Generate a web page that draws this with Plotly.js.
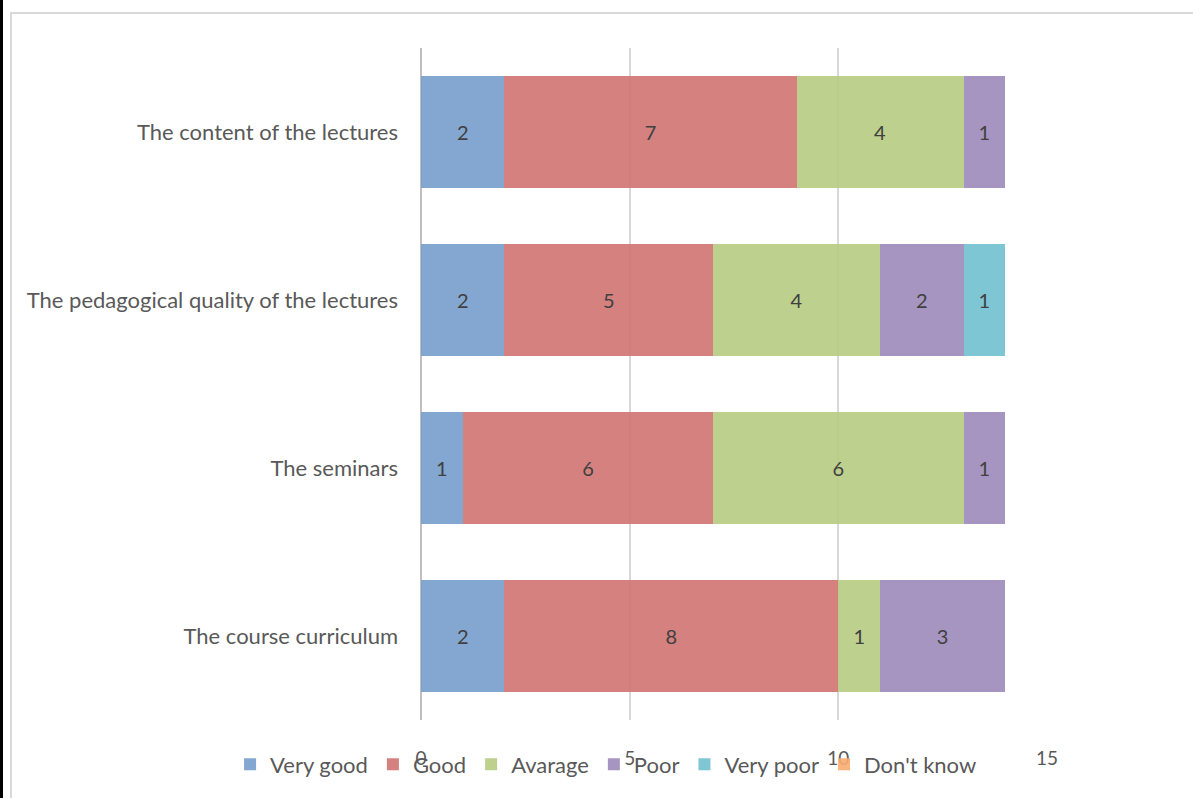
<!DOCTYPE html>
<html>
<head>
<meta charset="utf-8">
<script src="https://cdn.plot.ly/plotly-3.0.1.min.js"></script>
<style>
html,body{margin:0;padding:0;background:#fff;}
#wrap{position:relative;width:1193px;height:798px;overflow:hidden;}
#chart{position:absolute;left:0;top:0;width:1193px;height:798px;}
#frame{position:absolute;left:10px;top:12px;width:1200px;height:800px;border:2px solid #d9d9d9;pointer-events:none;box-sizing:border-box;}
#leftbar{position:absolute;left:0;top:0;width:3px;height:798px;background:#000;pointer-events:none;}
</style>
</head>
<body>
<div id="wrap">
<div id="chart"></div>
<div id="frame"></div>
<div id="leftbar"></div>
</div>
<script>
const categories = ["The course curriculum", "The seminars", "The pedagogical quality of the lectures", "The content of the lectures"];
const veryGood = [2, 1, 2, 2];
const good = [8, 6, 5, 7];
const avarage = [1, 6, 4, 4];
const poor = [3, 1, 2, 1];
const veryPoor = [0, 0, 1, 0];
const dontKnow = [0, 0, 0, 0];
const seriesNames = ["Very good", "Good", "Avarage", "Poor", "Very poor", "Don't know"];
const xTicks = [0, 5, 10, 15];

const seriesValues = [veryGood, good, avarage, poor, veryPoor, dontKnow];
const colors = ["rgba(118,157,203,0.9)", "rgba(207,115,113,0.9)", "rgba(182,203,129,0.9)",
                "rgba(156,137,185,0.9)", "rgba(113,192,208,0.9)", "rgba(248,172,111,0.9)"];
const FONT = "Lato, 'Open Sans', sans-serif";

const traces = seriesValues.map((vals, i) => ({
  type: "bar",
  orientation: "h",
  name: seriesNames[i],
  y: categories,
  x: vals,
  text: vals.map(v => v ? String(v) : ""),
  textposition: "inside",
  insidetextanchor: "middle",
  constraintext: "none",
  textfont: {family: FONT, size: 20, color: "#404040"},
  marker: {color: colors[i], line: {width: 0}},
  hoverinfo: "x+y+name"
}));

const layout = {
  width: 1193, height: 798,
  margin: {l: 421, r: 146, t: 48, b: 70, pad: 0},
  paper_bgcolor: "#ffffff",
  plot_bgcolor: "#ffffff",
  barmode: "stack",
  bargap: 0.335,
  font: {family: FONT, color: "#595959"},
  showlegend: true,
  legend: {
    orientation: "h",
    xref: "paper", yref: "paper",
    x: -0.305, xanchor: "left",
    y: -0.035, yanchor: "top",
    font: {family: FONT, size: 22, color: "#595959"},
    traceorder: "normal",
    itemwidth: 30,
    bgcolor: "rgba(0,0,0,0)"
  },
  xaxis: {
    range: [0, 15],
    tickvals: xTicks,
    ticktext: xTicks.map(String),
    showgrid: true,
    gridcolor: "#d9d9d9",
    gridwidth: 2,
    zeroline: true,
    zerolinecolor: "#bfbfbf",
    zerolinewidth: 2,
    showline: false,
    ticks: "",
    ticklabelstandoff: 25,
    tickfont: {family: FONT, size: 19, color: "#595959"},
    fixedrange: true
  },
  yaxis: {
    categoryorder: "array",
    categoryarray: categories,
    range: [-0.5, 3.5],
    showgrid: false,
    zeroline: false,
    showline: false,
    ticks: "",
    ticklabelstandoff: 22,
    tickfont: {family: FONT, size: 22, color: "#595959"},
    fixedrange: true
  }
};

Plotly.newPlot("chart", traces, layout, {displayModeBar: false, staticPlot: true});
</script>
</body>
</html>
